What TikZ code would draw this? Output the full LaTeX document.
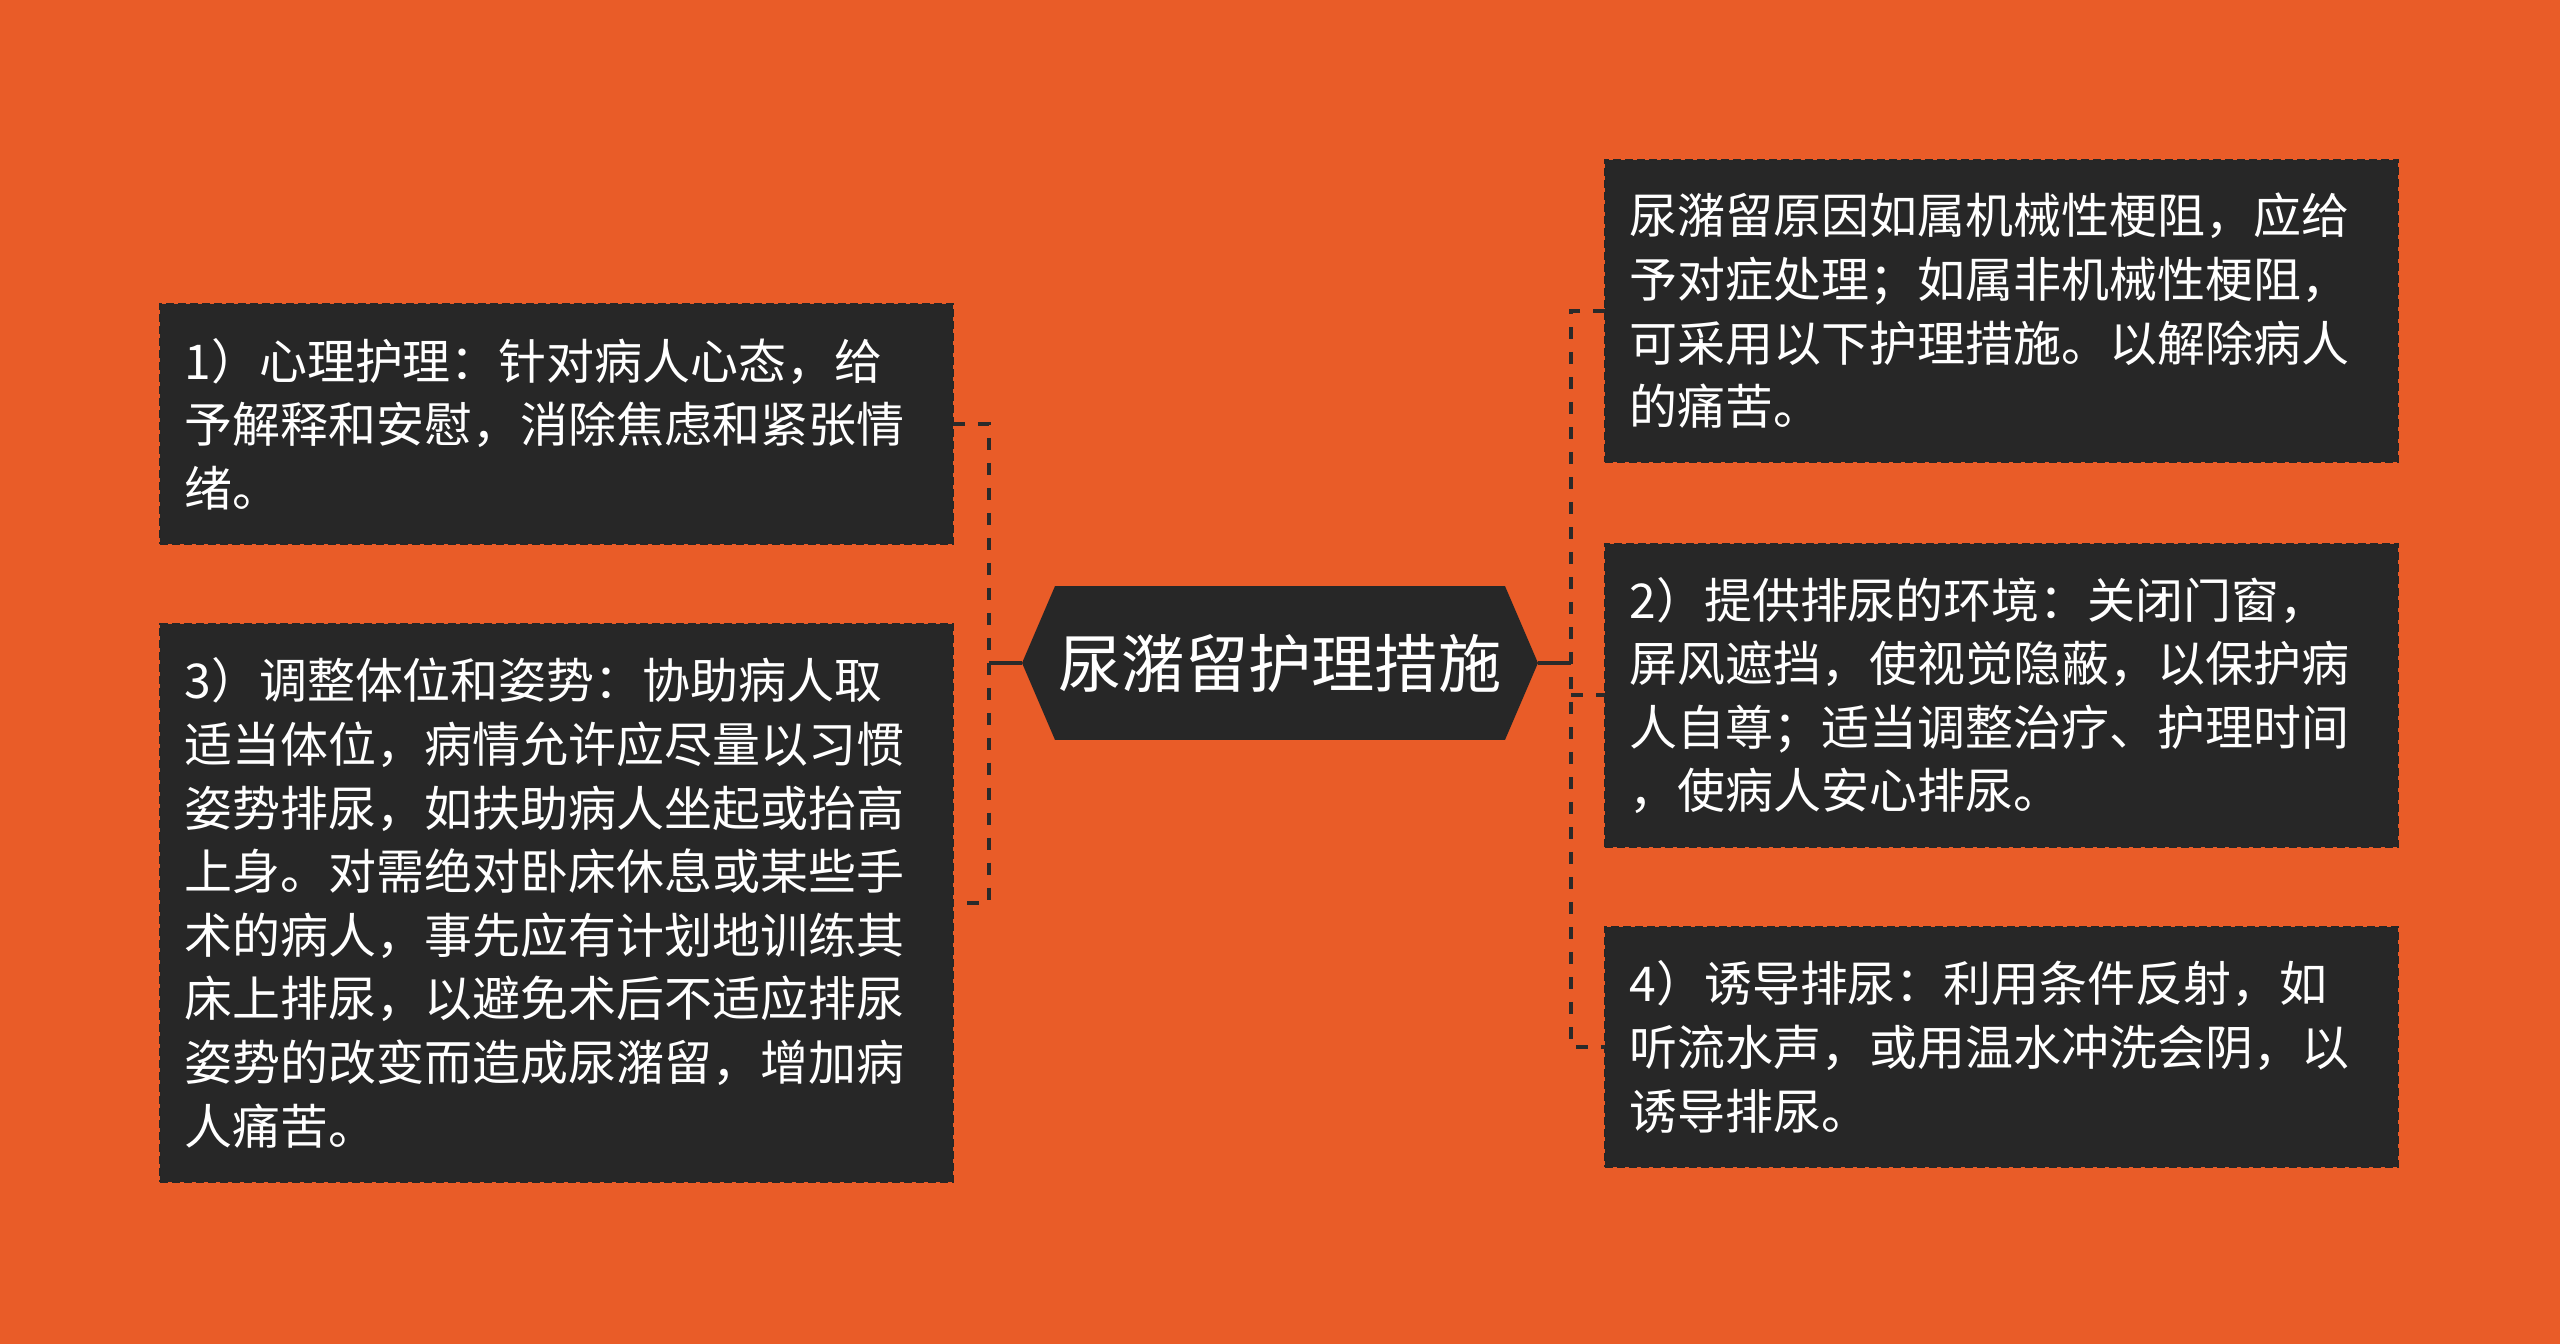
\documentclass[tikz,border=0pt]{standalone}
\usepackage{fontspec}
\setmainfont{Noto Sans CJK SC}
\usetikzlibrary{backgrounds}
\definecolor{bgorange}{HTML}{E95C28}
\definecolor{boxdark}{HTML}{272727}
\definecolor{linedark}{HTML}{2A2A2A}

\begin{document}
\begin{tikzpicture}
    [
        x=0.02cm, y=-0.02cm,
        topic/.style = {fill=boxdark, draw=black!85, dash pattern=on 0.16cm off 0.08cm, line width=0.05cm, text=white, anchor=north west, align=left, text width=14.88cm, inner xsep=0.49cm, inner ysep=0pt, outer sep=0pt, font=\fontsize{27.3pt}{36.2pt}\selectfont},
        root/.style = {text=white, minimum width=10.32cm, minimum height=3.08cm, inner sep=0pt, outer sep=0pt, font=\fontsize{36pt}{40pt}\selectfont},
        stem/.style = {draw=linedark, line width=0.08cm},
        link/.style = {draw=linedark, line width=0.08cm, dash pattern=on 0.24cm off 0.26cm},
    ]

    \node[root] (root) at (1280,663) {尿潴留护理措施};

    \node[topic, minimum height=4.80cm] (l1) at (160,304) {1）心理护理：针对病人心态，给\\予解释和安慰，消除焦虑和紧张情\\绪。};
    \node[topic, minimum height=11.16cm] (l3) at (160,624) {3）调整体位和姿势：协助病人取\\适当体位，病情允许应尽量以习惯\\姿势排尿，如扶助病人坐起或抬高\\上身。对需绝对卧床休息或某些手\\术的病人，事先应有计划地训练其\\床上排尿，以避免术后不适应排尿\\姿势的改变而造成尿潴留，增加病\\人痛苦。};

    \node[topic, minimum height=6.04cm] (r1) at (1605,160) {尿潴留原因如属机械性梗阻，应给\\予对症处理；如属非机械性梗阻，\\可采用以下护理措施。以解除病人\\的痛苦。};
    \node[topic, minimum height=6.06cm] (r2) at (1605,544) {2）提供排尿的环境：关闭门窗，\\屏风遮挡，使视觉隐蔽，以保护病\\人自尊；适当调整治疗、护理时间\\，使病人安心排尿。};
    \node[topic, minimum height=4.80cm] (r4) at (1605,927) {4）诱导排尿：利用条件反射，如\\听流水声，或用温水冲洗会阴，以\\诱导排尿。};

    \coordinate (lhub) at (989,663);
    \coordinate (rhub) at (1571,663);

    \begin{scope}[on background layer]
        \fill[bgorange] (0,0) rectangle (2560,1344);
        \fill[boxdark] (root.west) -- ([xshift=0.66cm]root.north west) -- ([xshift=-0.66cm]root.north east) -- (root.east) -- ([xshift=-0.66cm]root.south east) -- ([xshift=0.66cm]root.south west) -- cycle;
    \end{scope}

    \draw[stem] (root.west) -- (lhub);
    \draw[stem] (root.east) -- (rhub);

    \draw[link] (l1.east) -- (lhub |- l1.east) -- (lhub |- l3.east) -- (l3.east);

    \draw[link] (r1.west) -- (rhub |- r1.west) -- (rhub |- r4.west) -- (r4.west);
    \draw[link] (rhub |- r2.west) -- (r2.west);

\end{tikzpicture}
\end{document}
